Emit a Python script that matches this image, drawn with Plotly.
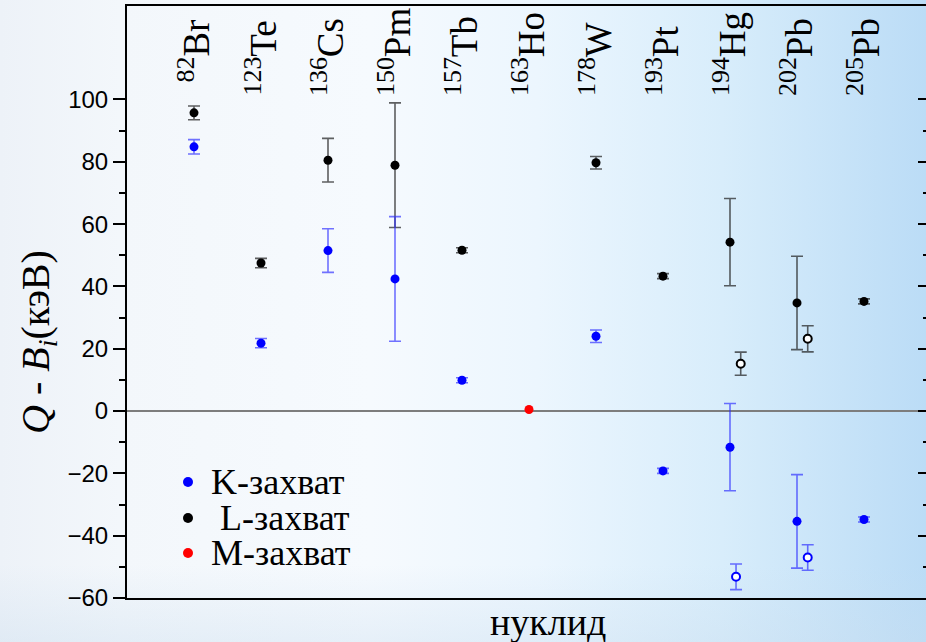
import base64
import plotly.graph_objects as go

# ---- data -------------------------------------------------------------
elements = ["Br", "Te", "Cs", "Pm", "Tb", "Ho", "W", "Pt", "Hg", "Pb", "Pb"]
mass_numbers = [82, 123, 136, 150, 157, 163, 178, 193, 194, 202, 205]

# Q - B_i for K-capture (keV) and its uncertainty
k_values = [84.8, 21.8, 51.5, 42.4, 9.9, None, 24.0, -19.2, -11.6, -35.4, -34.8]
k_errors = [2.3, 1.5, 7.0, 20.0, 0.8, None, 2.0, 0.8, 14.0, 15.0, 0.8]

# Q - B_i for L-capture (keV) and its uncertainty
l_values = [95.7, 47.5, 80.5, 78.9, 51.6, None, 79.7, 43.3, 54.2, 34.7, 35.2]
l_errors = [2.2, 1.5, 7.0, 20.0, 0.8, None, 2.0, 0.8, 14.0, 15.0, 0.8]

# Q - B_i for M-capture (keV)
m_values = [None, None, None, None, None, 0.5, None, None, None, None, None]

# alternative Q estimates for 194Hg and 202Pb (open symbols)
alt_nuclides = ["194Hg", "202Pb"]
alt_k_values = [-53.2, -47.0]
alt_k_errors = [4.1, 4.1]
alt_l_values = [15.2, 23.2]
alt_l_errors = [3.7, 4.2]

y_ticks = [-60, -40, -20, 0, 20, 40, 60, 80, 100]
y_minor = [-50, -30, -10, 10, 30, 50, 70, 90]

# ---- geometry / style -------------------------------------------------
W, H = 926, 642
ML, MR, MT, MB = 127, 0, 6, 44
PW, PH = W - ML - MR, H - MT - MB
UNIT = 67.0                       # px per nuclide slot
X_MAX = PW / UNIT

def px_x(p):
    return (p - ML) / PW

def px_y(p):
    return (H - MB - p) / PH

BLUE = "rgb(0,0,255)"
BLACK = "rgb(0,0,0)"
RED = "rgb(255,0,0)"
BLUE_BAR = "rgba(40,40,255,0.65)"
BLACK_BAR = "rgba(30,30,30,0.7)"
SERIF = "Liberation Serif"
SANS = "Liberation Sans"

xs = list(range(1, len(elements) + 1))
alt_idx = [elements.index("Hg") + 1, len(elements) - 1]
alt_k_x = [alt_idx[0] + 0.09, alt_idx[1] + 0.16]
alt_l_x = [alt_idx[0] + 0.16, alt_idx[1] + 0.16]

fig = go.Figure()

def add_series(x, y, err, color, bar_color, open_marker=False):
    marker = dict(size=9, color=color)
    if open_marker:
        marker = dict(size=8, color="white", symbol="circle",
                      line=dict(color=color, width=2))
    fig.add_trace(go.Scatter(
        x=x, y=y, mode="markers", marker=marker, showlegend=False,
        error_y=dict(type="data", array=err, visible=True,
                     color=bar_color, thickness=1.6, width=6) if err else None,
        cliponaxis=False,
    ))

add_series(xs, l_values, l_errors, BLACK, BLACK_BAR)
add_series(xs, k_values, k_errors, BLUE, BLUE_BAR)
add_series(xs, m_values, None, RED, RED)
add_series(alt_l_x, alt_l_values, alt_l_errors, BLACK, BLACK_BAR, open_marker=True)
add_series(alt_k_x, alt_k_values, alt_k_errors, BLUE, BLUE_BAR, open_marker=True)

# ---- background gradient ---------------------------------------------
svg = f"""<svg xmlns='http://www.w3.org/2000/svg' width='{W}' height='{H}'>
<defs><linearGradient id='g' x1='0' y1='0' x2='1' y2='0'>
<stop offset='0' stop-color='#EDF2F8'/>
<stop offset='0.13' stop-color='#F3F7FB'/>
<stop offset='0.40' stop-color='#F6FAFE'/>
<stop offset='0.58' stop-color='#ECF6FE'/>
<stop offset='0.78' stop-color='#D8EDFB'/>
<stop offset='1' stop-color='#BBDCF6'/>
</linearGradient>
<linearGradient id='v' x1='0' y1='0' x2='0' y2='1'>
<stop offset='0.88' stop-color='#C8DCEE' stop-opacity='0'/>
<stop offset='1' stop-color='#C8DCEE' stop-opacity='0.35'/>
</linearGradient></defs>
<rect width='{W}' height='{H}' fill='url(#g)'/>
<rect width='{W}' height='{H}' fill='url(#v)'/>
</svg>"""
bg_src = "data:image/svg+xml;base64," + base64.b64encode(svg.encode()).decode()

# ---- annotations ------------------------------------------------------
annotations = []
label_bottom = {"Br": 85}
for i, (el, a) in enumerate(zip(elements, mass_numbers)):
    annotations.append(dict(
        x=xs[i], y=px_y(label_bottom.get(el, 98)), xref="x", yref="paper",
        text=f"<sup>{a}</sup>{el}", showarrow=False, textangle=-90,
        xanchor="center", yanchor="bottom",
        font=dict(family=SERIF, size=37, color="black"),
    ))

annotations.append(dict(
    x=px_x(38), y=px_y(342), xref="paper", yref="paper", showarrow=False,
    text="<i>Q</i> - <i>B<sub>i</sub></i>(кэВ)", textangle=-90,
    xanchor="center", yanchor="middle",
    font=dict(family=SERIF, size=40, color="black"),
))
annotations.append(dict(
    x=px_x(548), y=px_y(622), xref="paper", yref="paper", showarrow=False,
    text="нуклид", xanchor="center", yanchor="middle",
    font=dict(family=SERIF, size=38, color="black"),
))

legend_items = [("K-захват", BLUE), (" L-захват", BLACK), ("M-захват", RED)]
legend_rows = [482, 518, 553]
shapes = []
for (txt, col), row in zip(legend_items, legend_rows):
    annotations.append(dict(
        x=px_x(209), y=px_y(row), xref="paper", yref="paper", showarrow=False,
        text=txt, xanchor="left", yanchor="middle",
        font=dict(family=SERIF, size=36, color="black"),
    ))
    shapes.append(dict(
        type="circle", xref="paper", yref="paper",
        xsizemode="pixel", ysizemode="pixel",
        xanchor=px_x(188), yanchor=px_y(row),
        x0=-5, x1=5, y0=-5, y1=5,
        fillcolor=col, line=dict(width=0),
    ))

fig.update_layout(
    width=W, height=H,
    margin=dict(l=ML, r=MR, t=MT, b=MB, pad=0),
    paper_bgcolor="white",
    plot_bgcolor="rgba(0,0,0,0)",
    showlegend=False,
    font=dict(family=SERIF),
    annotations=annotations,
    shapes=shapes,
    images=[dict(
        source=bg_src, xref="paper", yref="paper",
        x=px_x(0), y=px_y(0), sizex=W / PW, sizey=H / PH,
        xanchor="left", yanchor="top", sizing="stretch", layer="below",
    )],
    xaxis=dict(
        range=[0, X_MAX], showgrid=False, zeroline=False,
        showticklabels=False, ticks="",
        showline=True, linecolor="black", linewidth=2, mirror=True,
    ),
    yaxis=dict(
        range=[-60, 130], showgrid=False,
        zeroline=True, zerolinecolor="rgb(125,125,125)", zerolinewidth=2,
        tickvals=y_ticks, ticks="outside", ticklen=12, tickwidth=2,
        tickcolor="black",
        minor=dict(tickvals=y_minor, ticks="outside", ticklen=6,
                   tickwidth=2, tickcolor="black"),
        tickfont=dict(family=SANS, size=24, color="black"),
        showline=True, linecolor="black", linewidth=2,
    ),
    yaxis2=dict(
        range=[-60, 130], overlaying="y", side="right", showgrid=False,
        zeroline=False, showticklabels=False,
        tickvals=y_ticks, ticks="inside", ticklen=8, tickwidth=2,
        tickcolor="black",
        minor=dict(tickvals=y_minor, ticks="inside", ticklen=3,
                   tickwidth=2, tickcolor="black"),
        showline=False,
    ),
)

# invisible trace so the right-hand axis is drawn
fig.add_trace(go.Scatter(x=[None], y=[None], yaxis="y2", showlegend=False))

fig.write_html("out.html")
